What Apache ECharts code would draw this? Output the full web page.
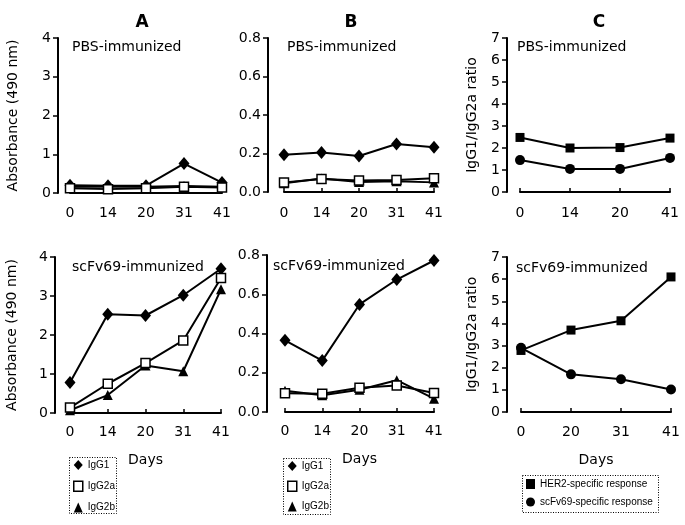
<!DOCTYPE html>
<html>
<head>
<meta charset="utf-8">
<script src="https://cdn.jsdelivr.net/npm/echarts@6/dist/echarts.min.js"></script>
<style>
html,body{margin:0;padding:0;background:#fff;}
#chart{width:685px;height:525px;}
</style>
</head>
<body>
<div id="chart"></div>
<script>
// ---- data ----
const daysAB = ['0', '14', '20', '31', '41'];
const daysCTop = ['0', '14', '20', '41'];
const daysCBottom = ['0', '20', '31', '41'];

// Panel A, PBS-immunized (absorbance)
const pbsA_IgG1 = [0.2, 0.19, 0.19, 0.76, 0.27];
const pbsA_IgG2a = [0.12, 0.1, 0.12, 0.16, 0.14];
const pbsA_IgG2b = [0.16, 0.16, 0.16, 0.18, 0.16];
// Panel B, PBS-immunized
const pbsB_IgG1 = [0.193, 0.205, 0.187, 0.249, 0.232];
const pbsB_IgG2a = [0.05, 0.068, 0.06, 0.062, 0.072];
const pbsB_IgG2b = [0.045, 0.07, 0.052, 0.056, 0.05];
// Panel C, PBS-immunized (ratio)
const pbsC_HER2 = [2.48, 2.0, 2.02, 2.45];
const pbsC_scFv = [1.45, 1.05, 1.05, 1.55];
// Panel A, scFv69-immunized
const scA_IgG1 = [0.78, 2.53, 2.5, 3.02, 3.7];
const scA_IgG2a = [0.14, 0.75, 1.28, 1.86, 3.46];
const scA_IgG2b = [0.07, 0.46, 1.22, 1.07, 3.17];
// Panel B, scFv69-immunized
const scB_IgG1 = [0.365, 0.262, 0.548, 0.675, 0.772];
const scB_IgG2a = [0.095, 0.093, 0.123, 0.135, 0.097];
const scB_IgG2b = [0.108, 0.085, 0.113, 0.162, 0.068];
// Panel C, scFv69-immunized
const scC_HER2 = [2.78, 3.7, 4.12, 6.1];
const scC_scFv = [2.9, 1.7, 1.48, 1.02];

const panelLetters = ['A', 'B', 'C'];
const subLabels = ['PBS-immunized', 'scFv69-immunized'];
const yNameAbs = 'Absorbance (490 nm)';
const yNameRatio = 'IgG1/IgG2a ratio';
const xName = 'Days';
const igNames = ['IgG1', 'IgG2a', 'IgG2b'];
const ratioNames = ['HER2-specific response', 'scFv69-specific response'];

// ---- layout ----
const FONT = 'DejaVu Sans';
const grids = [
  {left: 70, top: 38, width: 152, height: 155},   // A top
  {left: 284, top: 38, width: 150, height: 154},  // B top
  {left: 520, top: 38, width: 150, height: 154},  // C top
  {left: 70, top: 257, width: 151, height: 156},  // A bottom
  {left: 285, top: 255, width: 149, height: 157}, // B bottom
  {left: 521, top: 257, width: 150, height: 155}  // C bottom
];
const yOffsets = [12, 16, 13, 15, 18, 14];
const xOffsets = [7, 8, 8, 6, 6, 7];

function xAxis(i, data, withName) {
  return {
    type: 'category', gridIndex: i, data: data, boundaryGap: false,
    position: 'bottom', offset: xOffsets[i],
    axisLine: {lineStyle: {color: '#000', width: 2}},
    axisTick: {inside: true, length: 4, lineStyle: {color: '#000', width: 1.5}},
    axisLabel: {color: '#000', fontFamily: FONT, fontSize: 14, margin: 6},
    splitLine: {show: false},
    name: withName ? xName : '', nameLocation: 'middle', nameGap: 34,
    nameTextStyle: {color: '#000', fontFamily: FONT, fontSize: 14}
  };
}
function yAxis(i, max, interval, decimals, name, nameGap) {
  return {
    type: 'value', gridIndex: i, min: 0, max: max, interval: interval,
    offset: yOffsets[i],
    axisLine: {show: true, lineStyle: {color: '#000', width: 2}},
    axisTick: {show: true, length: 5, lineStyle: {color: '#000', width: 1.5}},
    axisLabel: {color: '#000', fontFamily: FONT, fontSize: 14, margin: 7,
      formatter: function (v) { return v.toFixed(decimals); }},
    splitLine: {show: false},
    name: name || '', nameLocation: 'middle', nameGap: nameGap || 30, nameRotate: 90,
    nameTextStyle: {color: '#000', fontFamily: FONT, fontSize: 14}
  };
}

const styles = {
  'IgG1': {symbol: 'diamond', symbolSize: [11, 13], itemStyle: {color: '#000'}},
  'IgG2a': {symbol: 'rect', symbolSize: 9, itemStyle: {color: '#fff', borderColor: '#000', borderWidth: 1.5}},
  'IgG2b': {symbol: 'triangle', symbolSize: 10, itemStyle: {color: '#000'}},
  'HER2-specific response': {symbol: 'rect', symbolSize: 9, itemStyle: {color: '#000'}},
  'scFv69-specific response': {symbol: 'circle', symbolSize: 10, itemStyle: {color: '#000'}}
};
function line(name, i, data) {
  const s = styles[name];
  return {
    type: 'line', name: name, xAxisIndex: i, yAxisIndex: i, data: data,
    symbol: s.symbol, symbolSize: s.symbolSize, itemStyle: s.itemStyle,
    lineStyle: {color: '#000', width: 2}, showSymbol: true,
    emphasis: {disabled: true}, z: name === 'IgG2a' ? 3 : 2
  };
}

const series = [
  line('IgG1', 0, pbsA_IgG1), line('IgG2b', 0, pbsA_IgG2b), line('IgG2a', 0, pbsA_IgG2a),
  line('IgG1', 1, pbsB_IgG1), line('IgG2b', 1, pbsB_IgG2b), line('IgG2a', 1, pbsB_IgG2a),
  line('HER2-specific response', 2, pbsC_HER2), line('scFv69-specific response', 2, pbsC_scFv),
  line('IgG1', 3, scA_IgG1), line('IgG2b', 3, scA_IgG2b), line('IgG2a', 3, scA_IgG2a),
  line('IgG1', 4, scB_IgG1), line('IgG2b', 4, scB_IgG2b), line('IgG2a', 4, scB_IgG2a),
  line('HER2-specific response', 5, scC_HER2), line('scFv69-specific response', 5, scC_scFv)
];

function legendData(names) {
  return names.map(function (n) {
    const s = styles[n];
    return {name: n, icon: s.symbol, itemStyle: s.itemStyle};
  });
}
const legendText = {color: '#000', fontFamily: 'Liberation Sans', fontSize: 10, lineHeight: 10};

function text(str, x, y, size, bold, align) {
  return {type: 'text', left: x, top: y,
    style: {text: str, fill: '#000', font: (bold ? 'bold ' : '') + size + 'px "' + FONT + '"',
      textAlign: align || 'left', textVerticalAlign: 'middle'}};
}
function box(x, y, w, h) {
  return {type: 'rect', shape: {x: x, y: y, width: w, height: h},
    style: {fill: 'none', stroke: '#000', lineWidth: 1, lineDash: [1, 1.5]}};
}

const option = {
  animation: false,
  backgroundColor: '#fff',
  grid: grids,
  xAxis: [
    xAxis(0, daysAB, false), xAxis(1, daysAB, false), xAxis(2, daysCTop, false),
    xAxis(3, daysAB, true), xAxis(4, daysAB, true), xAxis(5, daysCBottom, true)
  ],
  yAxis: [
    yAxis(0, 4, 1, 0, yNameAbs, 38),
    yAxis(1, 0.8, 0.2, 1),
    yAxis(2, 7, 1, 0, yNameRatio, 28),
    yAxis(3, 4, 1, 0, yNameAbs, 36),
    yAxis(4, 0.8, 0.2, 1),
    yAxis(5, 7, 1, 0, yNameRatio, 28)
  ],
  title: [
    {text: panelLetters[0], left: 137, top: 18, textAlign: 'center', textVerticalAlign: 'middle',
      textStyle: {fontFamily: FONT, fontSize: 17, fontWeight: 'bold', color: '#000'}},
    {text: panelLetters[1], left: 346, top: 18, textAlign: 'center', textVerticalAlign: 'middle',
      textStyle: {fontFamily: FONT, fontSize: 17, fontWeight: 'bold', color: '#000'}},
    {text: panelLetters[2], left: 594, top: 18, textAlign: 'center', textVerticalAlign: 'middle',
      textStyle: {fontFamily: FONT, fontSize: 17, fontWeight: 'bold', color: '#000'}}
  ],
  legend: [
    {data: legendData(igNames), orient: 'vertical', left: 73, top: 460, itemWidth: 9, itemHeight: 10,
      itemGap: 10.5, textStyle: legendText, selectedMode: false, padding: 0},
    {data: legendData(igNames), orient: 'vertical', left: 287, top: 461, itemWidth: 9, itemHeight: 10,
      itemGap: 9.5, textStyle: legendText, selectedMode: false, padding: 0},
    {data: legendData(ratioNames), orient: 'vertical', left: 526, top: 479, itemWidth: 9, itemHeight: 10,
      itemGap: 8, textStyle: legendText, selectedMode: false, padding: 0}
  ],
  graphic: [
    text(subLabels[0], 72, 40, 14),
    text(subLabels[0], 287, 40, 14),
    text(subLabels[0], 517, 40, 14),
    text(subLabels[1], 72, 260, 14),
    text(subLabels[1], 273, 259, 14),
    text(subLabels[1], 516, 261, 14),
    box(69.5, 457.5, 47, 56),
    box(283.5, 458.5, 47, 56),
    box(522.5, 475.5, 136, 37)
  ],
  series: series
};

const chart = echarts.init(document.getElementById('chart'), null, {renderer: 'canvas'});
chart.setOption(option);
</script>
</body>
</html>
